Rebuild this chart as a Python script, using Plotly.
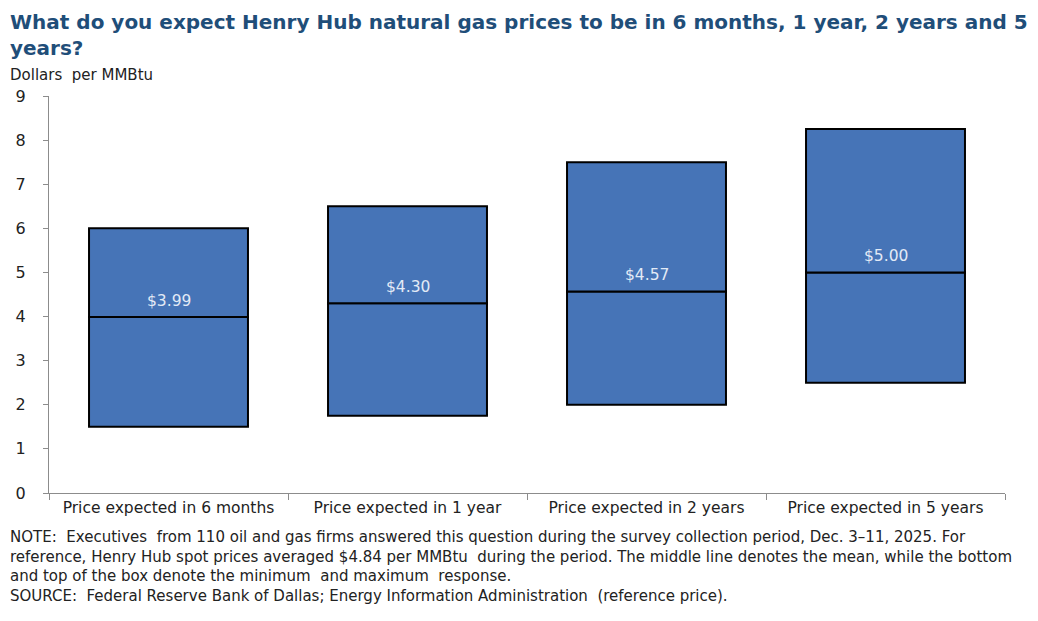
import plotly.graph_objects as go

categories = ["Price expected in 6 months", "Price expected in 1 year",
              "Price expected in 2 years", "Price expected in 5 years"]
min_vals = [1.50, 1.75, 2.00, 2.50]
mean_vals = [3.99, 4.30, 4.57, 5.00]
max_vals = [6.00, 6.50, 7.50, 8.25]
mean_labels = ["$3.99", "$4.30", "$4.57", "$5.00"]
y_ticks = [0, 1, 2, 3, 4, 5, 6, 7, 8, 9]

FILL = "#4674B7"
FONT = "DejaVu Sans, Arial, sans-serif"

fig = go.Figure()
fig.add_trace(go.Bar(
    x=categories, base=min_vals,
    y=[m - lo for m, lo in zip(mean_vals, min_vals)],
    width=0.665, marker=dict(color=FILL, line=dict(color="black", width=2)),
    hoverinfo="skip", showlegend=False,
))
fig.add_trace(go.Bar(
    x=categories, base=mean_vals,
    y=[hi - m for hi, m in zip(max_vals, mean_vals)],
    width=0.665, marker=dict(color=FILL, line=dict(color="black", width=2)),
    hoverinfo="skip", showlegend=False,
))
for cat, m, lab in zip(categories, mean_vals, mean_labels):
    fig.add_annotation(x=cat, y=m, text=lab, showarrow=False, yanchor="bottom",
                       yshift=5, font=dict(color="#E2EAF6", size=15.5, family=FONT))

fig.update_layout(
    barmode="overlay",
    width=1030, height=613,
    margin=dict(l=41, r=33, t=88, b=128, autoexpand=False),
    paper_bgcolor="white", plot_bgcolor="white",
    font=dict(family=FONT, color="#222"),
)
fig.update_xaxes(
    automargin=False,
    showline=True, linecolor="#8c8c8c", linewidth=1,
    ticks="outside", tickson="boundaries", ticklen=6, tickcolor="#8c8c8c",
    tickfont=dict(size=15.5, color="#222", family=FONT), showgrid=False,
)
fig.update_yaxes(
    automargin=False,
    range=[0, 9], tickvals=y_ticks, showline=True, linecolor="#8c8c8c", linewidth=1,
    ticks="outside", ticklen=5, tickcolor="#8c8c8c", showgrid=False, zeroline=False,
    ticklabelstandoff=14,
    tickfont=dict(size=16, color="#222", family=FONT),
)

fig.add_annotation(
    text="<b>What do you expect Henry Hub natural gas prices to be in 6 months, 1 year, 2 years and 5<br>years?</b>",
    xref="paper", yref="paper", x=-41/956, y=1 + 88/397, xanchor="left", yanchor="top",
    align="left", showarrow=False, font=dict(size=20, color="#1F4E79", family=FONT),
)
fig.add_annotation(
    text="Dollars  per MMBtu",
    xref="paper", yref="paper", x=-41/956, y=1 + 32/397, xanchor="left", yanchor="top",
    align="left", showarrow=False, font=dict(size=15, color="#222", family=FONT),
)
fig.add_annotation(
    text=("NOTE:  Executives  from 110 oil and gas firms answered this question during the survey collection period, Dec. 3\u201311, 2025. For<br>"
          "reference, Henry Hub spot prices averaged $4.84 per MMBtu  during the period. The middle line denotes the mean, while the bottom<br>"
          "and top of the box denote the minimum  and maximum  response.<br>"
          "SOURCE:  Federal Reserve Bank of Dallas; Energy Information Administration  (reference price)."),
    xref="paper", yref="paper", x=-41/956, y=-33/397, xanchor="left", yanchor="top",
    align="left", showarrow=False, font=dict(size=15, color="#222", family=FONT),
)

fig.write_html("out.html")
